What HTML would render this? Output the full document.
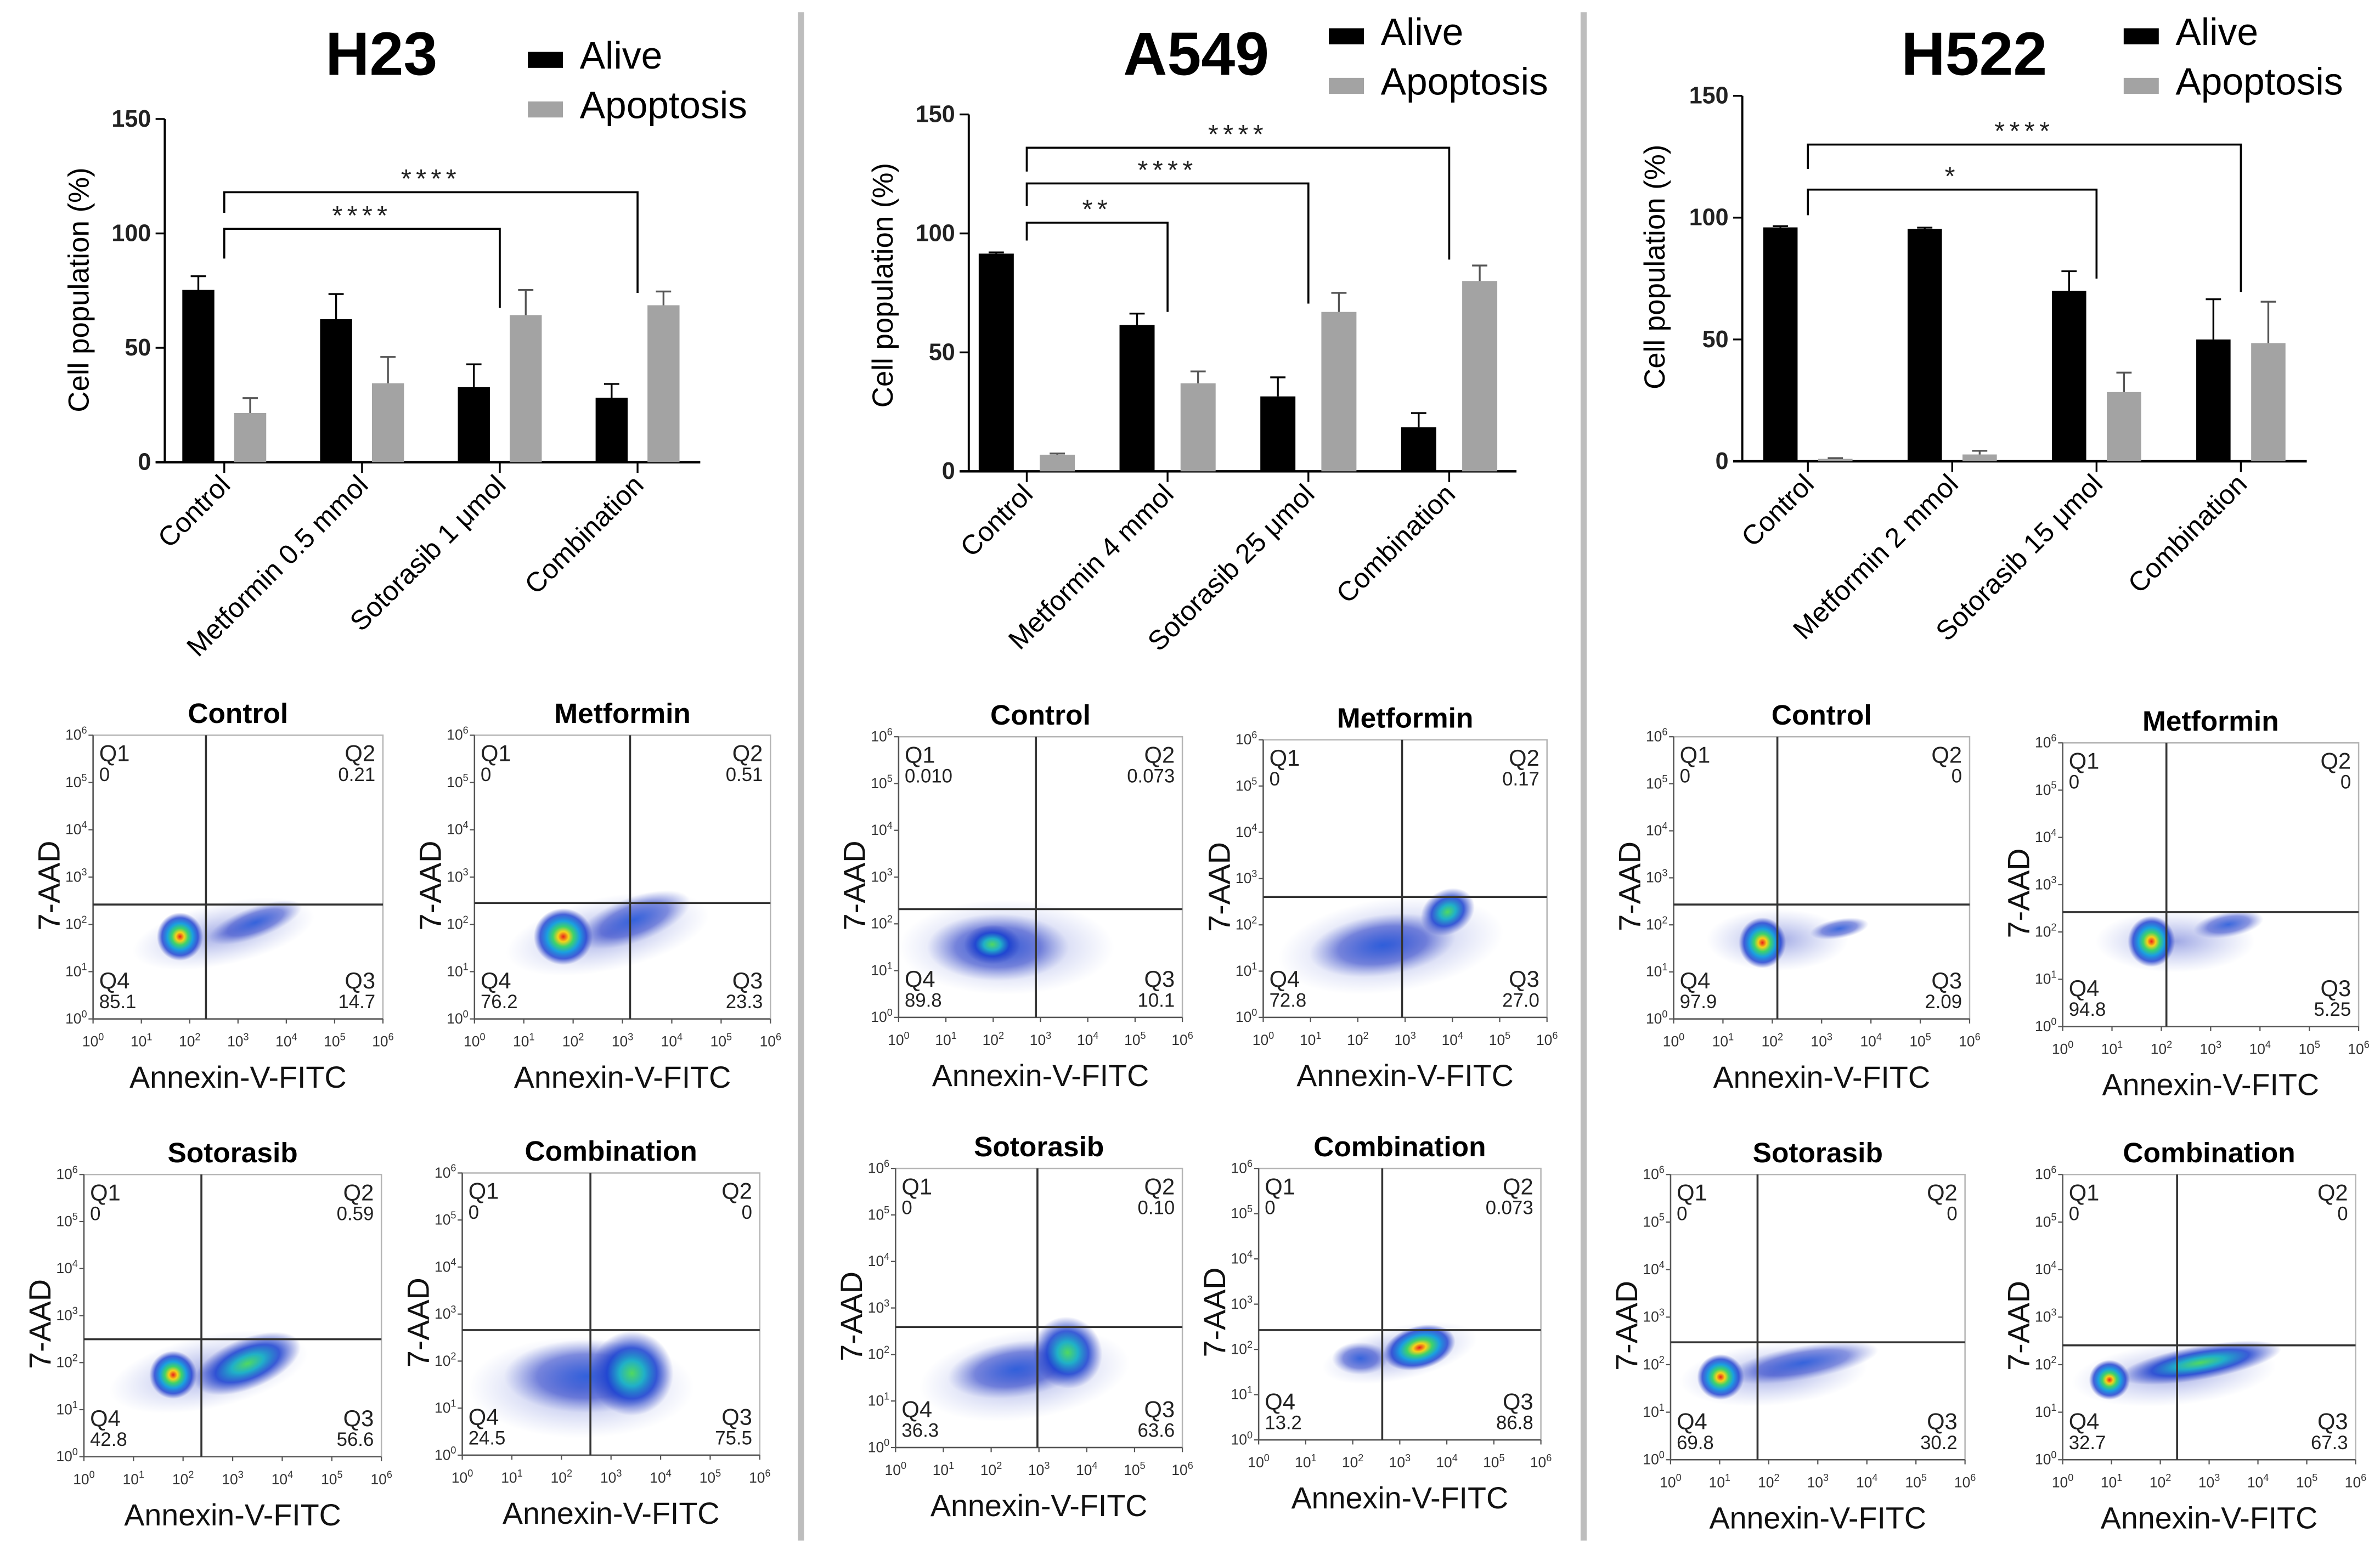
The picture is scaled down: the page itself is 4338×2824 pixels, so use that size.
<!DOCTYPE html>
<html><head><meta charset="utf-8">
<style>
html,body{margin:0;padding:0;background:#fff;}
svg{display:block;}
text{font-family:"Liberation Sans",Arial,sans-serif;}
</style></head>
<body>
<svg id="fig" xmlns="http://www.w3.org/2000/svg" width="4338" height="2824" viewBox="0 0 1560 1015.5">
<defs>
<radialGradient id="gCore">
<stop offset="0" stop-color="#e8201a"/>
<stop offset="0.18" stop-color="#f6d21a"/>
<stop offset="0.35" stop-color="#3ed26a"/>
<stop offset="0.55" stop-color="#1aa0e0"/>
<stop offset="0.78" stop-color="#1a3cd0" stop-opacity="0.8"/>
<stop offset="1" stop-color="#3040c0" stop-opacity="0"/>
</radialGradient>
<radialGradient id="gGreen">
<stop offset="0" stop-color="#50d860"/>
<stop offset="0.3" stop-color="#20b0c8"/>
<stop offset="0.6" stop-color="#1a40d0" stop-opacity="0.85"/>
<stop offset="1" stop-color="#3040c0" stop-opacity="0"/>
</radialGradient>
<radialGradient id="gBlue">
<stop offset="0" stop-color="#1a50d8" stop-opacity="0.85"/>
<stop offset="0.6" stop-color="#2a40c8" stop-opacity="0.55"/>
<stop offset="1" stop-color="#6070d0" stop-opacity="0"/>
</radialGradient>
<radialGradient id="gHalo">
<stop offset="0" stop-color="#5060d0" stop-opacity="0.55"/>
<stop offset="1" stop-color="#8090e0" stop-opacity="0"/>
</radialGradient>
</defs>
<line x1="525" y1="8" x2="525" y2="1010" stroke="#bdbdbd" stroke-width="4"/>
<line x1="1038" y1="8" x2="1038" y2="1010" stroke="#bdbdbd" stroke-width="4"/>
</svg>
<script>
// ---------- bar chart data ----------
const h23Categories = ["Control","Metformin 0.5 mmol","Sotorasib 1 μmol","Combination"];
const h23Alive = [75.3, 62.5, 32.8, 28.2];
const h23AliveErr = [6, 11, 10, 6];
const h23Apop = [21.5, 34.5, 64.3, 68.6];
const h23ApopErr = [6.5, 11.5, 11, 6];
const h23Ticks = [0, 50, 100, 150];

const a549Categories = ["Control","Metformin 4 mmol","Sotorasib 25 μmol","Combination"];
const a549Alive = [91.5, 61.5, 31.5, 18.5];
const a549AliveErr = [0.5, 4.8, 8, 6];
const a549Apop = [7, 37, 67, 80];
const a549ApopErr = [0.5, 5, 8, 6.5];
const a549Ticks = [0, 50, 100, 150];

const h522Categories = ["Control","Metformin 2 mmol","Sotorasib 15 μmol","Combination"];
const h522Alive = [96, 95.4, 70, 50];
const h522AliveErr = [0.5, 0.5, 8, 16.5];
const h522Apop = [1, 2.8, 28.4, 48.5];
const h522ApopErr = [0.3, 1.5, 8, 17];
const h522Ticks = [0, 50, 100, 150];

// brackets: [toIndex, barValue, leftDropValue, rightDropValue, label]
const h23Brackets = [[2, 102, 89, 67.5, "****"], [3, 118, 109, 74, "****"]];
const a549Brackets = [[1, 104.5, 97, 67, "**"], [2, 121, 111.5, 70.5, "****"], [3, 136, 126, 89, "****"]];
const h522Brackets = [[2, 111.5, 101, 75, "*"], [3, 130, 120, 69.5, "****"]];

const svg = document.getElementById('fig');
const NS = "http://www.w3.org/2000/svg";
function mk(tag, attrs, parent){
  const e = document.createElementNS(NS, tag);
  for (const k in attrs) e.setAttribute(k, attrs[k]);
  (parent||svg).appendChild(e);
  return e;
}

function barChart(o){
  const g = mk('g', {});
  
  
  const y = v => o.y0 - (o.y0 - o.y150) * v / 150;
  const xc = i => o.x0 + o.step * i;
  const t = mk('text', {x:o.titleX, y:49, 'font-size':40, 'font-weight':'bold', 'text-anchor':'middle', fill:'#000'}, g);
  t.textContent = o.name;
  
  
  const lg = mk('g', {}, g);
  
  
  const li = [["Alive","#000",o.legY],["Apoptosis","#a3a3a3",o.legY+32.5]];
  li.forEach((L) => {
    const r = mk('rect', {x:o.legX, y:L[2]-10.5, width:23, height:10.5, fill:L[1]}, lg);
    
    
    const tx = mk('text', {x:o.legX+34, y:L[2]+0.5, 'font-size':25, fill:'#000'}, lg);
    tx.textContent = L[0];
    
    
  });
  const ya = mk('line', {x1:o.yAxisX, y1:o.y150, x2:o.yAxisX, y2:o.y0, stroke:'#000', 'stroke-width':1.4}, g);
  
  
  const xa = mk('line', {x1:o.yAxisX-6, y1:o.y0, x2:o.xEnd, y2:o.y0, stroke:'#000', 'stroke-width':1.6}, g);
  
  
  o.ticks.forEach(v => {
    const tl = mk('line', {x1:o.yAxisX-6, y1:y(v), x2:o.yAxisX, y2:y(v), stroke:'#000', 'stroke-width':1.2}, g);
    
    
    const tt = mk('text', {x:o.yAxisX-9, y:y(v)+5, 'font-size':15.5, 'font-weight':'bold', 'text-anchor':'end', fill:'#222'}, g);
    tt.textContent = v;
    
    
  });
  const yl = mk('text', {x:0, y:0, 'font-size':19, 'text-anchor':'middle', fill:'#000', transform:`translate(${o.yLabelX},${o.yLabelY}) rotate(-90)`}, g);
  yl.textContent = "Cell population (%)";
  
  
  o.categories.forEach((c, i) => {
    const cx = xc(i);
    const xt = mk('line', {x1:cx, y1:o.y0, x2:cx, y2:o.y0+7, stroke:'#000', 'stroke-width':1.2}, g);
    
    
    const cl = mk('text', {x:0, y:0, 'font-size':18, 'text-anchor':'end', fill:'#000', transform:`translate(${cx+5},${o.y0+16}) rotate(-45)`}, g);
    cl.textContent = c;
    
    
    [[o.alive[i], o.aliveErr[i], -o.off, '#000', 'alive'], [o.apop[i], o.apopErr[i], o.off, '#a3a3a3', 'apoptosis']].forEach(B => {
      const bx = cx + B[2];
      const top = y(B[0]);
      const r = mk('rect', {x:bx - o.bw/2, y:top, width:o.bw, height:o.y0 - top, fill:B[3]}, g);
      
      
      const et = y(B[0] + B[1]);
      const e1 = mk('line', {x1:bx, y1:top, x2:bx, y2:et, stroke:B[3] === '#000' ? '#000' : '#555', 'stroke-width':1.2}, g);
      
      
      const e2 = mk('line', {x1:bx-5, y1:et, x2:bx+5, y2:et, stroke:B[3] === '#000' ? '#000' : '#555', 'stroke-width':1.2}, g);
      
      
    });
  });
  o.brackets.forEach(b => {
    const x1 = xc(0), x2 = xc(b[0]);
    const p = mk('path', {d:`M${x1},${y(b[2])} L${x1},${y(b[1])} L${x2},${y(b[1])} L${x2},${y(b[3])}`, fill:'none', stroke:'#000', 'stroke-width':1.3}, g);
    
    
    const s = mk('text', {x:(x1+x2)/2, y:y(b[1])-3, 'font-size':17.5, 'text-anchor':'middle', 'letter-spacing':3, fill:'#222'}, g);
    s.textContent = b[4];
    
    
  });
}

barChart({name:'H23', categories:h23Categories, alive:h23Alive, aliveErr:h23AliveErr, apop:h23Apop, apopErr:h23ApopErr, ticks:h23Ticks, brackets:h23Brackets,
  titleX:250, legX:346, legY:44.5, yAxisX:108, y0:303, y150:78, xEnd:459, x0:147, step:90.3, off:17, bw:21, yLabelX:58, yLabelY:190});
barChart({name:'A549', categories:a549Categories, alive:a549Alive, aliveErr:a549AliveErr, apop:a549Apop, apopErr:a549ApopErr, ticks:a549Ticks, brackets:a549Brackets,
  titleX:784, legX:871, legY:29, yAxisX:635, y0:309, y150:75, xEnd:994, x0:673, step:92.3, off:20, bw:23, yLabelX:585, yLabelY:187});
barChart({name:'H522', categories:h522Categories, alive:h522Alive, aliveErr:h522AliveErr, apop:h522Apop, apopErr:h522ApopErr, ticks:h522Ticks, brackets:h522Brackets,
  titleX:1294, legX:1392, legY:29, yAxisX:1142, y0:302.4, y150:62.8, xEnd:1512, x0:1185, step:94.6, off:18, bw:22.5, yLabelX:1091, yLabelY:175});

// ---------- flow cytometry plots ----------
const flowTitles = ["Control","Metformin","Sotorasib","Combination","Control","Metformin","Sotorasib","Combination","Control","Metformin","Sotorasib","Combination"];
const flowQ1 = ["0","0","0","0","0.010","0","0","0","0","0","0","0"];
const flowQ2 = ["0.21","0.51","0.59","0","0.073","0.17","0.10","0.073","0","0","0","0"];
const flowQ3 = ["14.7","23.3","56.6","75.5","10.1","27.0","63.6","86.8","2.09","5.25","30.2","67.3"];
const flowQ4 = ["85.1","76.2","42.8","24.5","89.8","72.8","36.3","13.2","97.9","94.8","69.8","32.7"];
const flowBoxes = [
 [61,482,251,668],[311,482,505,668],[55,770,250,955],[303,769,498,954],
 [589,483,775,667],[828,485,1014,667],[587,766,775,949],[825,766,1010,944],
 [1097,483,1291,668],[1352,487,1546,673],[1095,770,1288,957],[1352,770,1544,957]];
const flowV = [135,413,132,387, 679,919,680,906, 1165,1420,1152,1427];
const flowH = [593,592,878,872, 596,588,870,872, 593,598,880,882];
const flowClusters = [
 [["gHalo",.45,.70,.32,.11,-12],["gBlue",.56,.66,.17,.055,-20],["gCore",.30,.71,.08,.085,0]],
 [["gHalo",.45,.70,.35,.13,-12],["gBlue",.54,.65,.2,.08,-20],["gCore",.30,.71,.1,.1,0]],
 [["gHalo",.42,.70,.34,.13,-12],["gGreen",.55,.67,.19,.09,-22],["gCore",.30,.71,.08,.085,0]],
 [["gHalo",.40,.76,.38,.18,0],["gBlue",.42,.72,.28,.13,0],["gGreen",.57,.71,.14,.15,0]],
 [["gHalo",.38,.75,.38,.17,0],["gBlue",.35,.75,.25,.12,0],["gGreen",.33,.74,.1,.07,0]],
 [["gHalo",.45,.74,.4,.17,-8],["gBlue",.42,.74,.26,.11,-8],["gGreen",.65,.62,.1,.08,-30]],
 [["gHalo",.45,.74,.37,.16,-8],["gBlue",.42,.72,.24,.1,-8],["gGreen",.6,.66,.12,.13,-25]],
 [["gHalo",.5,.68,.28,.1,-12],["gBlue",.36,.7,.1,.06,0],["gCore",.57,.66,.13,.08,-15]],
 [["gHalo",.35,.72,.24,.11,0],["gBlue",.56,.68,.1,.035,-10],["gCore",.30,.73,.08,.09,0]],
 [["gHalo",.38,.7,.27,.11,0],["gBlue",.56,.64,.12,.045,-10],["gCore",.30,.70,.08,.09,0]],
 [["gHalo",.35,.7,.32,.11,-5],["gBlue",.45,.66,.26,.06,-10],["gCore",.17,.71,.08,.08,0]],
 [["gHalo",.38,.7,.35,.11,-5],["gGreen",.47,.66,.28,.06,-10],["gCore",.16,.72,.07,.07,0]]];

function sup(t, base, exp){
  const a = mk('tspan', {}, t); a.textContent = base;
  const b = mk('tspan', {dy:-4, 'font-size':6.5}, t); b.textContent = exp;
}

flowTitles.forEach((title, i) => {
  const [L,T,R,B] = flowBoxes[i];
  const W = R-L, H = B-T;
  const g = mk('g', {});
  
  
  const tt = mk('text', {x:(L+R)/2, y:T-8, 'font-size':18.5, 'font-weight':'bold', 'text-anchor':'middle', fill:'#000'}, g);
  tt.textContent = title;
  
  
  const cg = mk('g', {}, g);
  
  
  flowClusters[i].forEach(c => {
    const cx = L + c[1]*W, cy = T + c[2]*H;
    const el = mk('ellipse', {cx:cx, cy:cy, rx:c[3]*W, ry:c[4]*H, fill:`url(#${c[0]})`, transform:`rotate(${c[5]},${cx},${cy})`}, cg);
    
    
  });
  const fr = mk('rect', {x:L, y:T, width:W, height:H, fill:'none', stroke:'#b5b5b5', 'stroke-width':0.9}, g);
  
  
  const ax = mk('path', {d:`M${L},${T} L${L},${B} L${R},${B}`, fill:'none', stroke:'#555', 'stroke-width':0.9}, g);
  
  
  const vl = mk('line', {x1:flowV[i], y1:T, x2:flowV[i], y2:B, stroke:'#333', 'stroke-width':1.3}, g);
  
  
  const hl = mk('line', {x1:L, y1:flowH[i], x2:R, y2:flowH[i], stroke:'#333', 'stroke-width':1.3}, g);
  
  
  for (let k = 0; k <= 6; k++){
    const yy = B - H*k/6, xx = L + W*k/6;
    mk('line', {x1:L-3, y1:yy, x2:L, y2:yy, stroke:'#555', 'stroke-width':0.8}, g);
    mk('line', {x1:xx, y1:B, x2:xx, y2:B+3, stroke:'#555', 'stroke-width':0.8}, g);
    const ty = mk('text', {x:L-4, y:yy+3, 'font-size':9.5, 'text-anchor':'end', fill:'#333'}, g);
    sup(ty, '10', k);
    
    
    const tx = mk('text', {x:xx, y:B+18, 'font-size':9.5, 'text-anchor':'middle', fill:'#333'}, g);
    sup(tx, '10', k);
    
    
  }
  const yl = mk('text', {x:0, y:0, 'font-size':20, 'text-anchor':'middle', fill:'#111', transform:`translate(${L-22},${T+H*0.53}) rotate(-90)`}, g);
  yl.textContent = '7-AAD';
  
  
  const xl = mk('text', {x:(L+R)/2, y:B+45, 'font-size':20, 'text-anchor':'middle', fill:'#111'}, g);
  xl.textContent = 'Annexin-V-FITC';
  
  
  const q = [["Q1",flowQ1[i],L+4,T+17,'start'],["Q2",flowQ2[i],R-5,T+17,'end'],["Q4",flowQ4[i],L+4,B-20,'start'],["Q3",flowQ3[i],R-5,B-20,'end']];
  q.forEach(Q => {
    const a = mk('text', {x:Q[2], y:Q[3], 'font-size':15, 'text-anchor':Q[4], fill:'#222'}, g);
    a.textContent = Q[0];
    
    
    const b = mk('text', {x:Q[2], y:Q[3]+13, 'font-size':12.5, 'text-anchor':Q[4], fill:'#222'}, g);
    b.textContent = Q[1];
    
    
  });
});
</script>
</body></html>
